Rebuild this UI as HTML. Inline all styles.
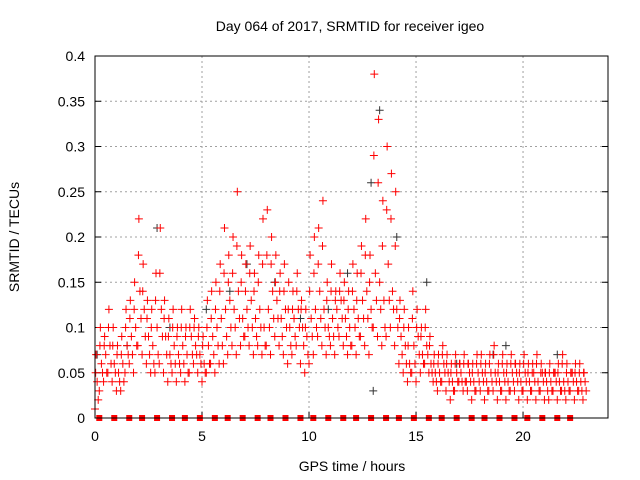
<!DOCTYPE html>
<html><head><meta charset="utf-8"><style>
body{margin:0;background:#fff;}
svg{display:block;font-family:"Liberation Sans",sans-serif;}
</style></head><body>
<svg id="chart" width="640" height="480">
<text x="350" y="31" font-size="14" text-anchor="middle">Day 064 of 2017, SRMTID for receiver igeo</text>
<text x="352" y="471" font-size="14" text-anchor="middle">GPS time / hours</text>
<text transform="translate(19,237) rotate(-90)" font-size="14" text-anchor="middle">SRMTID / TECUs</text>
<g id="grid"></g><g id="ticks"></g><g id="marks"></g>
<rect x="95" y="56" width="513" height="362" fill="none" stroke="#000" stroke-width="1"/>
</svg>
<script>
const times=[0,0.2,0.4,0.6,0.8,1,1.2,1.4,1.6,1.8,2,2.2,2.4,2.6,2.8,3,3.2,3.4,3.6,3.8,4,4.2,4.4,4.6,4.8,5,5.2,5.4,5.6,5.8,6,6.2,6.4,6.6,6.8,7,7.2,7.4,7.6,7.8,8,8.2,8.4,8.6,8.8,9,9.2,9.4,9.6,9.8,10,10.2,10.4,10.6,10.8,11,11.2,11.4,11.6,11.8,12,12.2,12.4,12.6,12.8,13,13.2,13.4,13.6,13.8,14,14.2,14.4,14.6,14.8,15,15.2,15.4,15.6,15.8,16,16.2,16.4,16.6,16.8,17,17.2,17.4,17.6,17.8,18,18.2,18.4,18.6,18.8,19,19.2,19.4,19.6,19.8,20,20.2,20.4,20.6,20.8,21,21.2,21.4,21.6,21.8,22,22.2,22.4,22.6,22.8];
const lowVals=[0.01,0.03,0.04,0.05,0.04,0.03,0.03,0.05,0.06,0.05,0.08,0.07,0.06,0.05,0.05,0.06,0.05,0.04,0.05,0.04,0.05,0.04,0.05,0.06,0.05,0.04,0.05,0.06,0.05,0.06,0.06,0.07,0.08,0.07,0.08,0.09,0.08,0.07,0.08,0.07,0.08,0.07,0.09,0.08,0.07,0.06,0.07,0.08,0.06,0.05,0.06,0.07,0.09,0.08,0.07,0.08,0.07,0.09,0.08,0.07,0.08,0.07,0.09,0.08,0.07,0.10,0.09,0.08,0.09,0.10,0.08,0.06,0.05,0.04,0.05,0.04,0.05,0.06,0.05,0.04,0.03,0.04,0.03,0.02,0.03,0.04,0.03,0.03,0.02,0.03,0.03,0.02,0.03,0.03,0.02,0.03,0.02,0.03,0.03,0.02,0.03,0.02,0.03,0.02,0.03,0.02,0.02,0.03,0.02,0.03,0.02,0.03,0.02,0.03,0.02];
const lowMidVals=[0.02,0.05,0.05,0.06,0.05,0.04,0.04,0.07,0.07,0.08,0.11,0.09,0.07,0.06,0.07,0.09,0.07,0.06,0.06,0.06,0.06,0.05,0.07,0.07,0.06,0.05,0.06,0.07,0.08,0.08,0.09,0.10,0.10,0.11,0.09,0.10,0.10,0.09,0.10,0.08,0.10,0.11,0.11,0.09,0.10,0.08,0.09,0.10,0.08,0.07,0.09,0.10,0.11,0.10,0.09,0.09,0.10,0.11,0.09,0.08,0.10,0.09,0.11,0.11,0.10,0.13,0.12,0.10,0.13,0.12,0.10,0.07,0.06,0.05,0.06,0.07,0.06,0.07,0.05,0.04,0.04,0.05,0.04,0.03,0.04,0.04,0.04,0.04,0.03,0.04,0.04,0.03,0.04,0.04,0.03,0.04,0.03,0.04,0.04,0.03,0.04,0.03,0.04,0.03,0.04,0.03,0.03,0.04,0.03,0.03,0.03,0.04,0.03,0.03,0.03];
const midVals=[0.04,0.06,0.07,0.08,0.06,0.05,0.06,0.08,0.09,0.10,0.14,0.12,0.09,0.08,0.10,0.12,0.09,0.07,0.08,0.07,0.08,0.07,0.09,0.08,0.07,0.06,0.08,0.09,0.10,0.11,0.12,0.13,0.12,0.14,0.11,0.12,0.13,0.11,0.12,0.10,0.12,0.14,0.13,0.11,0.12,0.10,0.11,0.12,0.10,0.09,0.11,0.12,0.14,0.12,0.10,0.11,0.12,0.13,0.11,0.10,0.12,0.11,0.13,0.14,0.12,0.16,0.15,0.13,0.17,0.14,0.12,0.09,0.08,0.06,0.08,0.09,0.07,0.08,0.06,0.05,0.05,0.06,0.05,0.04,0.05,0.05,0.04,0.05,0.04,0.05,0.05,0.04,0.05,0.05,0.04,0.05,0.04,0.05,0.05,0.04,0.05,0.04,0.05,0.04,0.05,0.04,0.04,0.05,0.04,0.04,0.04,0.05,0.04,0.04,0.04];
const midHighVals=[0.05,0.08,0.08,0.10,0.08,0.07,0.07,0.10,0.11,0.12,0.18,0.14,0.11,0.10,0.13,0.16,0.11,0.09,0.10,0.09,0.10,0.09,0.10,0.10,0.09,0.08,0.10,0.11,0.12,0.14,0.16,0.15,0.16,0.19,0.15,0.14,0.16,0.14,0.15,0.17,0.18,0.17,0.15,0.14,0.14,0.12,0.12,0.14,0.12,0.10,0.14,0.16,0.17,0.19,0.13,0.14,0.13,0.14,0.13,0.12,0.14,0.13,0.16,0.18,0.15,0.29,0.26,0.19,0.23,0.22,0.19,0.11,0.10,0.08,0.11,0.10,0.09,0.10,0.08,0.06,0.06,0.07,0.06,0.05,0.06,0.06,0.06,0.06,0.05,0.06,0.06,0.05,0.06,0.07,0.05,0.06,0.05,0.06,0.06,0.05,0.06,0.05,0.05,0.06,0.05,0.05,0.05,0.05,0.05,0.06,0.05,0.05,0.05,0.05,0.05];
const highVals=[0.07,0.10,0.09,0.12,0.10,0.08,0.09,0.12,0.13,0.15,0.22,0.17,0.13,0.12,0.16,0.21,0.13,0.11,0.12,0.10,0.12,0.10,0.12,0.11,0.10,0.09,0.13,0.14,0.15,0.17,0.21,0.18,0.20,0.25,0.18,0.17,0.19,0.16,0.18,0.22,0.23,0.20,0.18,0.16,0.17,0.15,0.14,0.16,0.13,0.12,0.18,0.20,0.21,0.24,0.15,0.17,0.14,0.16,0.15,0.14,0.17,0.16,0.19,0.22,0.18,0.38,0.33,0.24,0.30,0.27,0.25,0.13,0.12,0.10,0.14,0.12,0.10,0.12,0.09,0.07,0.07,0.08,0.07,0.06,0.07,0.06,0.07,0.06,0.06,0.07,0.07,0.06,0.07,0.08,0.06,0.07,0.06,0.07,0.06,0.06,0.07,0.06,0.06,0.07,0.06,0.05,0.06,0.05,0.06,0.07,0.06,0.05,0.06,0.06,0.05];
const darkTimes=[0.1,1.5,2.9,3.5,5.2,6.3,7.1,8.4,9.6,10.9,11.8,12.9,13.0,13.3,14.1,15.5,16.9,18.6,19.2,21.6];
const darkVals=[0.07,0.08,0.21,0.10,0.12,0.14,0.17,0.15,0.11,0.12,0.16,0.26,0.03,0.34,0.20,0.15,0.06,0.07,0.08,0.07];
const zeroTimes=[0.2,0.9,1.6,2.2,2.9,3.6,4.2,4.9,5.6,6.2,6.9,7.6,8.2,8.9,9.6,10.2,10.9,11.6,12.2,12.9,13.6,14.2,14.9,15.6,16.2,16.9,17.6,18.2,18.9,19.6,20.2,20.9,21.6,22.2];
const xTicks=[0,5,10,15,20];
const yTicks=[0,0.05,0.1,0.15,0.2,0.25,0.3,0.35,0.4];

const X0=95,X1=608,Y0=418,Y1=56,XMAX=23.97,YMAX=0.4;
function xs(t){return X0+t/XMAX*(X1-X0);}
function ys(v){return Y0-v/YMAX*(Y0-Y1);}
const NS="http://www.w3.org/2000/svg";
function mk(tag,attrs,parent){const e=document.createElementNS(NS,tag);for(const k in attrs)e.setAttribute(k,attrs[k]);parent.appendChild(e);return e;}
const grid=document.getElementById('grid'),ticks=document.getElementById('ticks'),marks=document.getElementById('marks');
xTicks.forEach(t=>{const x=xs(t);
 if(t>0){const g=mk('line',{x1:x,x2:x,y1:Y0,y2:Y1,stroke:'#a0a0a0','stroke-dasharray':'2,3'},grid);
 
 }
 mk('line',{x1:x,x2:x,y1:Y0,y2:Y0-6,stroke:'#000'},ticks);
 const l=mk('text',{x:x,y:Y0+23,'font-size':14,'text-anchor':'middle'},ticks);l.textContent=t;
 
 });
yTicks.forEach(v=>{const y=ys(v);
 if(v>0){const g=mk('line',{x1:X0,x2:X1,y1:y,y2:y,stroke:'#a0a0a0','stroke-dasharray':'2,3'},grid);
 
 }
 mk('line',{x1:X0,x2:X0+6,y1:y,y2:y,stroke:'#000'},ticks);
 mk('line',{x1:X1,x2:X1-6,y1:y,y2:y,stroke:'#000'},ticks);
 const l=mk('text',{x:X0-10,y:y+5,'font-size':14,'text-anchor':'end'},ticks);l.textContent=v;
 
 });
function plus(t,v,col,name){const x=xs(t),y=ys(v);
 const p=mk('path',{d:`M${x-4},${y}H${x+4}M${x},${y-4}V${y+4}`,stroke:col,'stroke-width':1,fill:'none'},marks);
 
 }
darkTimes.forEach((t,i)=>plus(t,darkVals[i],'#333','dark-point'));
times.forEach((t,i)=>{
 plus(t,lowVals[i],'#f00','srmtid-point-low');
 plus(t+0.15,lowMidVals[i],'#f00','srmtid-point-low-mid');
 plus(t+0.1,midVals[i],'#f00','srmtid-point-mid');
 plus(t+0.03,midHighVals[i],'#f00','srmtid-point-mid-high');
 plus(t+0.05,highVals[i],'#f00','srmtid-point-high');});
zeroTimes.forEach(t=>{const r=mk('rect',{x:xs(t)-3,y:Y0-3,width:6,height:6,fill:'#f00'},marks);
 
 });
</script>
</body></html>
